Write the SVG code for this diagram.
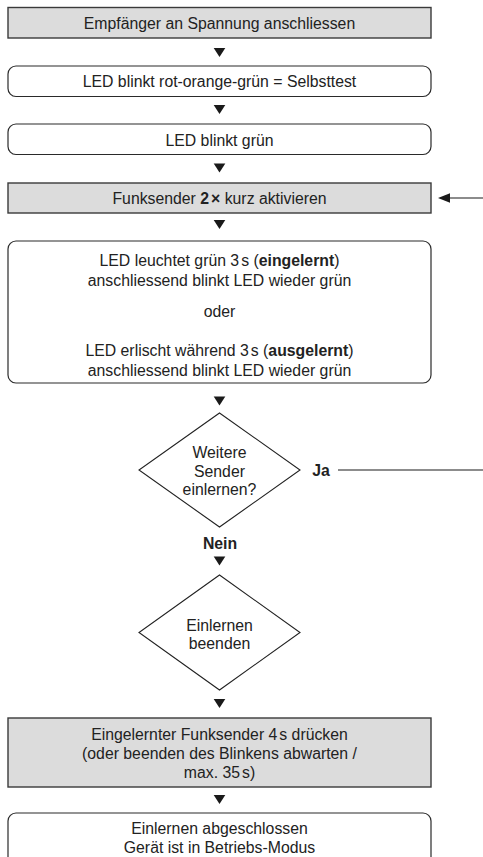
<svg xmlns="http://www.w3.org/2000/svg" width="483" height="857" viewBox="0 0 483 857">
  <defs>
    <style>
      .step { fill: #dcdcdc; stroke: #3a3a3a; stroke-width: 1.4; }
      .state { fill: #ffffff; stroke: #2a2a2a; stroke-width: 1.2; }
      .decision { fill: #ffffff; stroke: #222222; stroke-width: 1.1; }
      .lbl { font-family: "Liberation Sans", Arial, Helvetica, sans-serif; font-size: 15.8px; fill: #222222; text-anchor: middle; }
      .b { font-weight: bold; }
      .head { fill: #1a1a1a; stroke: none; }
      .wire { stroke: #1a1a1a; stroke-width: 1.2; fill: none; }
    </style>
    <polygon id="down" points="-5.8,0 5.8,0 0,9"/>
  </defs>

  <rect width="483" height="857" fill="#ffffff"/>

  <g id="n1">
    <rect class="step" x="8" y="7.5" width="423" height="30.5"/>
    <text class="lbl" x="219.5" y="29">Empfänger an Spannung anschliessen</text>
  </g>

  <g id="n2">
    <rect class="state" x="8" y="66" width="423" height="30.5" rx="8"/>
    <text class="lbl" x="219.5" y="87">LED blinkt rot-orange-grün = Selbsttest</text>
  </g>

  <g id="n3">
    <rect class="state" x="8" y="124" width="423" height="30.5" rx="8"/>
    <text class="lbl" x="219.5" y="146">LED blinkt grün</text>
  </g>

  <g id="n4">
    <rect class="step" x="8" y="183" width="423" height="30"/>
    <text class="lbl" x="219.5" y="203.5">Funksender <tspan class="b">2<tspan dx="2">×</tspan></tspan> kurz aktivieren</text>
  </g>

  <g id="n5">
    <rect class="state" x="8" y="241" width="423" height="142" rx="8"/>
    <text class="lbl" x="219.5" y="266">LED leuchtet grün 3<tspan dx="2">s</tspan> (<tspan class="b">eingelernt</tspan>)</text>
    <text class="lbl" x="219.5" y="285.5">anschliessend blinkt LED wieder grün</text>
    <text class="lbl" x="219.5" y="317">oder</text>
    <text class="lbl" x="219.5" y="356">LED erlischt während 3<tspan dx="2">s</tspan> (<tspan class="b">ausgelernt</tspan>)</text>
    <text class="lbl" x="219.5" y="375.5">anschliessend blinkt LED wieder grün</text>
  </g>

  <g id="n6">
    <polygon class="decision" points="219.5,413 300,470 219.5,527 139,470"/>
    <text class="lbl" x="219.5" y="458">Weitere</text>
    <text class="lbl" x="219.5" y="476.5">Sender</text>
    <text class="lbl" x="219.5" y="495">einlernen?</text>
  </g>

  <g id="n7">
    <polygon class="decision" points="219.5,575 300,632.5 219.5,690 139,632.5"/>
    <text class="lbl" x="219.5" y="631">Einlernen</text>
    <text class="lbl" x="219.5" y="649">beenden</text>
  </g>

  <g id="n8">
    <rect class="step" x="8" y="718" width="423" height="69"/>
    <text class="lbl" x="219.5" y="740">Eingelernter Funksender 4<tspan dx="2">s</tspan> drücken</text>
    <text class="lbl" x="219.5" y="759">(oder beenden des Blinkens abwarten /</text>
    <text class="lbl" x="219.5" y="778">max. 35<tspan dx="2">s</tspan>)</text>
  </g>

  <g id="n9">
    <rect class="state" x="8" y="813" width="423" height="60" rx="8"/>
    <text class="lbl" x="219.5" y="834">Einlernen abgeschlossen</text>
    <text class="lbl" x="219.5" y="853">Gerät ist in Betriebs-Modus</text>
  </g>

  <g id="connectors">
    <use href="#down" class="head" x="219.5" y="48"/>
    <use href="#down" class="head" x="219.5" y="105"/>
    <use href="#down" class="head" x="219.5" y="163.5"/>
    <use href="#down" class="head" x="219.5" y="220"/>
    <use href="#down" class="head" x="219.5" y="396.5"/>
    <use href="#down" class="head" x="219.5" y="556.5"/>
    <use href="#down" class="head" x="219.5" y="699"/>
    <use href="#down" class="head" x="219.5" y="795"/>

    <!-- "Ja" branch leaves to the right and comes back into the send step -->
    <text class="lbl b" x="321" y="475.5">Ja</text>
    <line class="wire" x1="338" y1="470" x2="483" y2="470"/>
    <line class="wire" x1="449" y1="198" x2="483" y2="198"/>
    <polygon class="head" points="438,198 450,193.3 450,202.7"/>

    <text class="lbl b" x="220" y="548.5">Nein</text>
  </g>
</svg>
